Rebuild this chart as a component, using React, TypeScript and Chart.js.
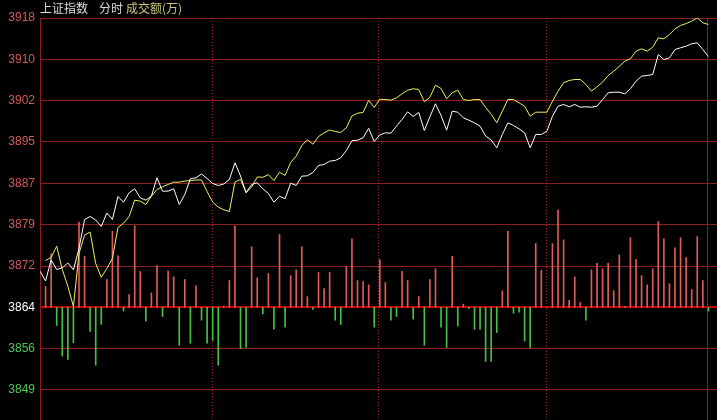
import React, { useEffect, useRef } from 'react';
import { Chart, registerables } from 'chart.js';

Chart.register(...registerables);

// ---- data (index 0 = open, 1..120 = intraday samples) ----
const WHITE_LINE: number[] = [
  3870.75, 3868.92, 3872.84, 3871.06, 3871.38, 3872.28, 3871.01, 3874.98, 3880.39, 3880.95,
  3880.30, 3879.09, 3881.61, 3880.39, 3884.69, 3883.62, 3885.38, 3886.12, 3884.44, 3884.00,
  3884.74, 3888.18, 3885.68, 3885.68, 3886.12, 3883.19, 3885.06, 3887.99, 3888.18, 3888.89,
  3888.05, 3887.11, 3886.74, 3887.02, 3887.86, 3890.98, 3888.51, 3885.38, 3886.93, 3887.24,
  3886.12, 3885.25, 3883.62, 3884.74, 3884.26, 3887.17, 3886.74, 3888.48, 3888.55, 3889.17,
  3890.47, 3890.66, 3891.27, 3891.41, 3891.91, 3893.27, 3895.10, 3895.19, 3895.64, 3897.41,
  3894.95, 3896.16, 3896.57, 3896.50, 3897.81, 3899.06, 3900.49, 3899.62, 3900.36, 3897.00,
  3899.56, 3901.99, 3899.80, 3897.06, 3900.61, 3900.42, 3899.37, 3898.93, 3898.44, 3897.81,
  3895.98, 3895.23, 3893.78, 3896.26, 3898.44, 3897.94, 3897.32, 3896.57, 3893.78, 3896.26,
  3896.26, 3896.87, 3899.67, 3901.54, 3901.86, 3901.43, 3901.86, 3901.35, 3901.43, 3901.35,
  3901.54, 3902.79, 3904.04, 3904.15, 3904.15, 3903.85, 3904.79, 3906.20, 3907.14, 3907.27,
  3907.46, 3911.19, 3910.25, 3910.57, 3912.12, 3912.44, 3912.74, 3913.18, 3913.37, 3912.12,
  3910.81,
];

const YELLOW_LINE: (number | null)[] = [
  null, 3872.74, 3873.30, 3875.41, 3871.06, 3867.95, 3864.16, 3874.05, 3877.50, 3878.06,
  3872.18, 3869.61, 3871.25, 3873.12, 3878.90, 3879.70, 3880.95, 3884.00, 3883.81, 3883.19,
  3884.74, 3885.99, 3886.50, 3886.93, 3887.36, 3887.36, 3887.58, 3887.63, 3887.77, 3887.77,
  3885.62, 3883.66, 3882.69, 3882.20, 3881.89, 3887.39, 3887.86, 3885.43, 3886.46, 3888.33,
  3888.27, 3888.76, 3887.67, 3889.22, 3888.61, 3891.03, 3892.24, 3894.20, 3895.27, 3894.45,
  3895.88, 3896.57, 3897.10, 3896.82, 3896.63, 3897.51, 3899.71, 3900.23, 3900.36, 3902.64,
  3901.30, 3902.83, 3902.79, 3902.66, 3903.11, 3903.85, 3904.53, 3904.79, 3904.66, 3902.36,
  3903.22, 3905.46, 3904.84, 3902.92, 3904.04, 3904.53, 3902.79, 3902.60, 3902.79, 3902.79,
  3901.33, 3900.05, 3898.44, 3900.61, 3902.79, 3902.79, 3902.17, 3901.54, 3899.67, 3900.42,
  3900.42, 3900.42, 3902.47, 3904.34, 3905.91, 3906.34, 3906.52, 3906.52, 3905.59, 3904.34,
  3905.16, 3906.02, 3907.27, 3908.07, 3909.00, 3909.94, 3910.39, 3911.80, 3912.25, 3911.80,
  3912.55, 3914.30, 3914.12, 3914.92, 3915.98, 3916.60, 3916.97, 3917.40, 3918.04, 3917.10,
  3916.79,
];

// 成交额 bars, signed, in price-axis units measured from the 3864 baseline
const BAR_DELTA: (number | null)[] = [
  null, 3.9, 10.0, -3.4, -9.1, -9.7, -6.6, 15.9, 9.5, -4.5,
  -10.8, -3.2, 5.2, 14.2, 9.6, -0.7, 2.4, 15.2, 6.7, -2.6,
  2.7, 7.8, -1.7, 6.8, 5.7, -7.1, 5.2, -6.7, 4.0, -2.4,
  -6.7, -6.2, -10.8, 0.2, 5.0, 15.2, -7.7, -7.5, 11.3, 5.5,
  -1.2, 6.3, -4.1, 13.6, -3.7, 5.9, 7.0, 11.3, 2.0, -0.4,
  6.5, 3.5, 6.5, -2.4, -3.2, 7.6, 12.8, 5.0, 4.8, 4.2,
  -3.7, 8.9, 4.6, -2.4, -1.7, 6.7, 5.0, -2.2, 2.0, -7.1,
  5.2, 7.2, -3.7, -7.5, 9.5, -3.5, 0.6, -0.2, -4.1, -4.1,
  -10.1, -10.1, -4.7, 3.1, 14.2, -1.1, -0.9, -6.3, -7.5, 11.9,
  6.9, 0, 11.9, 18.2, 12.6, 1.3, 5.7, 0.9, -2.4, 7.0,
  8.2, 7.2, 8.2, 3.1, 9.8, 0.2, 13.0, 8.9, 5.9, 4.2,
  7.2, 16.0, 12.8, 4.4, 11.1, 13.0, 9.3, 3.3, 13.2, 5.0,
  -0.7,
];

const BASELINE = 3864;
const Y_TICK_VALUES = [3848.57, 3856.29, 3864, 3871.71, 3879.43, 3887.14, 3894.86, 3902.57, 3910.29, 3918];
const Y_TICK_LABELS = ['3849', '3856', '3864', '3872', '3879', '3887', '3895', '3902', '3910', '3918'];
const Y_MIN = 3842.97;
const Y_MAX = 3918;
const X_MIN = 0;
const X_MAX = 121.54;
const SESSION_MARKS = [30.83, 60.74, 90.79];
const END_MARK = 119.8;

const TITLE_PARTS = [
  { text: '上证指数', color: '#dcdcdc', gap: 11 },
  { text: '分时', color: '#dcdcdc', gap: 3 },
  { text: '成交额(万)', color: '#c8c87a', gap: 0 },
];

const GRID_RED = '#8e1e1e';
const BASE_RED = '#cc0000';
const LABEL_RED = '#d25a5a';
const LABEL_GREEN = '#4cc84c';
const BAR_RED = '#e05a5a';
const BAR_GREEN = '#44c044';

const bgPlugin = {
  id: 'bg',
  beforeDraw(chart: any) {
    const { ctx, width, height } = chart;
    ctx.save();
    ctx.fillStyle = '#000';
    ctx.fillRect(0, 0, width, height);
    ctx.restore();
  },
};

const markPlugin = {
  id: 'marks',
  beforeDatasetsDraw(chart: any) {
    const { ctx, chartArea } = chart;
    const x = chart.scales.x;
    ctx.save();
    ctx.strokeStyle = '#a02828';
    ctx.lineWidth = 1;
    ctx.setLineDash([1, 2]);
    for (const m of SESSION_MARKS) {
      const px = Math.round(x.getPixelForValue(m)) + 0.5;
      ctx.beginPath();
      ctx.moveTo(px, chartArea.top);
      ctx.lineTo(px, chartArea.bottom);
      ctx.stroke();
    }
    ctx.setLineDash([]);
    ctx.strokeStyle = GRID_RED;
    const ex = Math.round(x.getPixelForValue(END_MARK)) + 0.5;
    ctx.beginPath();
    ctx.moveTo(ex, chartArea.top);
    ctx.lineTo(ex, chartArea.bottom);
    ctx.stroke();
    ctx.restore();
  },
  afterDraw(chart: any) {
    const { ctx, chartArea } = chart;
    ctx.save();
    ctx.font = '12px "Noto Sans CJK SC", sans-serif';
    ctx.textBaseline = 'middle';
    ctx.textAlign = 'left';
    let cx = chartArea.left;
    for (const p of TITLE_PARTS) {
      ctx.fillStyle = p.color;
      ctx.fillText(p.text, cx, 8);
      cx += ctx.measureText(p.text).width + p.gap;
    }
    ctx.restore();
  },
};

export default function App() {
  const ref = useRef<HTMLCanvasElement | null>(null);

  useEffect(() => {
    document.body.style.margin = '0';
    document.body.style.background = '#000';
    const canvas = ref.current;
    if (!canvas) return;

    const white = WHITE_LINE.map((v, i) => ({ x: i, y: v }));
    const yellow = YELLOW_LINE.map((v, i) => ({ x: i, y: v })).filter((p) => p.y !== null);
    const bars = BAR_DELTA.map((d, i) => ({ x: i, y: d === null ? null : [BASELINE, BASELINE + d] })).filter(
      (p) => p.y !== null
    );

    const chart = new Chart(canvas, {
      type: 'line',
      data: {
        datasets: [
          {
            type: 'bar',
            data: bars as any,
            barThickness: 1,
            borderWidth: 0,
            backgroundColor: (c: any) => {
              const r = c.raw;
              if (!r || !r.y) return BAR_RED;
              return r.y[1] >= BASELINE ? BAR_RED : BAR_GREEN;
            },
            order: 3,
          } as any,
          {
            type: 'line',
            data: yellow as any,
            borderColor: '#f0f064',
            borderWidth: 1,
            pointRadius: 0,
            tension: 0,
            order: 2,
          },
          {
            type: 'line',
            data: white as any,
            borderColor: '#ffffff',
            borderWidth: 1,
            pointRadius: 0,
            tension: 0,
            order: 1,
          },
        ],
      },
      options: {
        animation: false,
        responsive: false,
        devicePixelRatio: 1,
        layout: { padding: { top: 18, left: 0, right: 0, bottom: 0 } },
        plugins: { legend: { display: false }, tooltip: { enabled: false }, title: { display: false } },
        scales: {
          x: { type: 'linear', min: X_MIN, max: X_MAX, display: false, offset: false },
          y: {
            type: 'linear',
            position: 'left',
            min: Y_MIN,
            max: Y_MAX,
            afterFit: (s: any) => {
              s.width = 40;
              s.paddingTop = 0;
              s.paddingBottom = 0;
            },
            afterBuildTicks: (s: any) => {
              s.ticks = Y_TICK_VALUES.map((v) => ({ value: v }));
            },
            grid: {
              drawTicks: false,
              color: (c: any) => (c.tick && Math.abs(c.tick.value - BASELINE) < 0.01 ? BASE_RED : GRID_RED),
              lineWidth: (c: any) => (c.tick && Math.abs(c.tick.value - BASELINE) < 0.01 ? 2 : 1),
            },
            border: { color: GRID_RED, width: 1 },
            ticks: {
              autoSkip: false,
              padding: 5,
              font: { family: '"Liberation Sans", Arial, sans-serif', size: 12 },
              color: (c: any) => {
                const v = c.tick ? c.tick.value : 0;
                if (Math.abs(v - BASELINE) < 0.01) return '#ffffff';
                return v > BASELINE ? LABEL_RED : LABEL_GREEN;
              },
              callback: (_v: any, i: number) => Y_TICK_LABELS[i],
            },
          },
        },
      },
      plugins: [bgPlugin, markPlugin],
    });

    return () => chart.destroy();
  }, []);

  return (
    <div style={{ width: 717, height: 420, background: '#000' }}>
      <canvas ref={ref} width={717} height={420} style={{ display: 'block' }} />
    </div>
  );
}
